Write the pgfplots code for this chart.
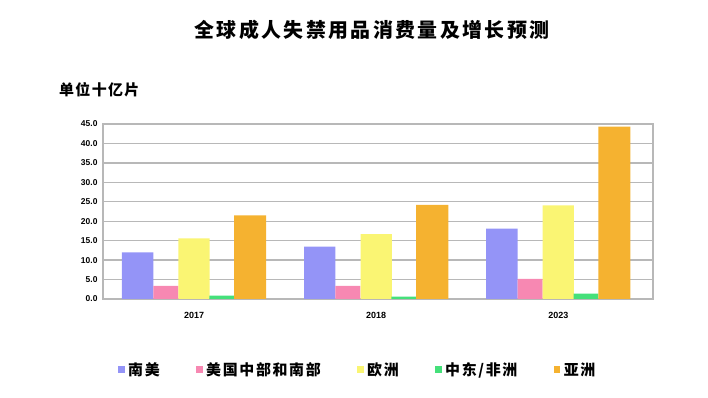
\documentclass[border=0pt]{standalone}
\usepackage{pgfplots}
\pgfplotsset{compat=1.18}
\usepackage{fontspec}
\setmainfont{Liberation Sans}
\newfontfamily\cjk{Noto Sans CJK SC}
\newfontfamily\cjktitle[LetterSpace=12]{Noto Sans CJK SC}
\newfontfamily\cjkunit[LetterSpace=9]{Noto Sans CJK SC}
\newfontfamily\cjkleg[LetterSpace=11]{Noto Sans CJK SC}
\definecolor{cBlue}{HTML}{9494F7}
\definecolor{cPink}{HTML}{F788B2}
\definecolor{cYellow}{HTML}{FAF573}
\definecolor{cGreen}{HTML}{45E07A}
\definecolor{cOrange}{HTML}{F5B230}
\begin{document}
\begin{tikzpicture}
\path[use as bounding box] (0,0) rectangle (708bp,398bp);
\node[font=\cjktitle\fontsize{20}{22}\selectfont\bfseries] at (372bp,368bp) {全球成人失禁用品消费量及增长预测};
\node[font=\cjkunit\fontsize{15}{17}\selectfont\bfseries, anchor=west, inner sep=0pt] at (59bp,308bp) {单位十亿片};
\begin{axis}[
  at={(103bp,99bp)}, anchor=south west,
  scale only axis, width=550bp, height=175bp,
  ybar,
  xmin=-0.5, xmax=2.52, ymin=0, ymax=45,
  xtick={0,1,2}, xticklabels={2017,2018,2023},
  ytick distance=5,
  major tick length=0pt,
  ymajorgrids,
  grid style={color=black!28, line width=1.3bp},
  axis line style={color=black!28, line width=1.3bp},
  /pgf/number format/assume math mode=true,
  yticklabel style={/pgf/number format/fixed, /pgf/number format/fixed zerofill, /pgf/number format/precision=1},
  yticklabel style={font=\fontsize{8.5}{9}\selectfont\bfseries, xshift=-2bp},
  xticklabel style={font=\fontsize{9}{10}\selectfont\bfseries, yshift=-10bp},
  legend columns=5,
  legend image code/.code={\fill[#1] (0bp,-3bp) rectangle (6.5bp,3.5bp);},
  legend style={at={(0.0273,-0.4057)}, anchor=west, draw=none, fill=none,
    inner sep=0pt, font=\cjkleg\fontsize{15}{17}\selectfont\bfseries,
    nodes={inner xsep=3.5bp},
    /tikz/every even column/.append style={column sep=33bp}},
]
\addplot[fill=cBlue, draw=none, bar width=0.172, bar shift=-0.31] coordinates {(0,12.0) (1,13.5) (2,18.1)};
\addlegendentry{南美}
\addplot[fill=cPink, draw=none, bar width=0.137, bar shift=-0.155] coordinates {(0,3.4) (1,3.4) (2,5.2)};
\addlegendentry{美国中部和南部}
\addplot[fill=cYellow, draw=none, bar width=0.172, bar shift=0] coordinates {(0,15.6) (1,16.7) (2,24.1)};
\addlegendentry{欧洲}
\addplot[fill=cGreen, draw=none, bar width=0.137, bar shift=0.152] coordinates {(0,0.9) (1,0.6) (2,1.4)};
\addlegendentry{中东/非洲}
\addplot[fill=cOrange, draw=none, bar width=0.176, bar shift=0.308] coordinates {(0,21.5) (1,24.2) (2,44.3)};
\addlegendentry{亚洲}
\end{axis}
\end{tikzpicture}
\end{document}
